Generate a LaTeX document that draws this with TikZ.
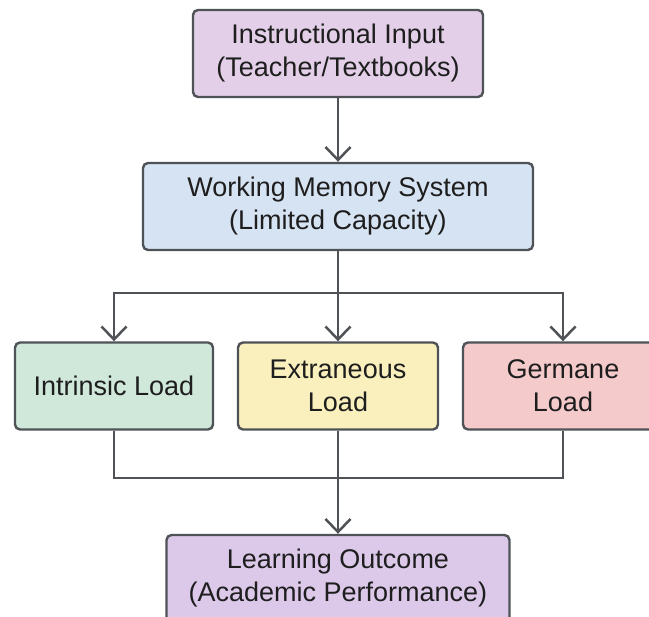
\documentclass[tikz,border=0pt]{standalone}
\usepackage{fontspec}
\setmainfont{Liberation Sans}
\usepackage{xcolor}
\usepackage{tikz}
\usetikzlibrary{arrows.meta,positioning}

\definecolor{inpcol}{HTML}{E3D0E8}
\definecolor{wmcol}{HTML}{D6E3F2}
\definecolor{intcol}{HTML}{CFE8DA}
\definecolor{extcol}{HTML}{FAF0BE}
\definecolor{gercol}{HTML}{F5CACB}
\definecolor{outcol}{HTML}{DCC9EA}
\definecolor{linegray}{HTML}{4F5357}
\definecolor{textgray}{HTML}{1E1E1E}

\begin{document}
\begin{tikzpicture}[x=1pt,y=-1pt,
	box/.style={draw=linegray,line width=2.4pt,rounded corners=5pt,align=center,minimum height=87pt,inner sep=0pt,text=textgray,font=\fontsize{27}{33}\selectfont},
	wire/.style={draw=linegray,line width=2.5pt},
	conn/.style={wire,-{Straight Barb[length=13pt,width=25pt]}}]
	\useasboundingbox (0,0) rectangle (649,617);
	\fill[white] (0,0) rectangle (649,617);
	\clip (0,0) rectangle (649,617);
	% boxes
	\node[box,fill=inpcol,minimum width=290pt] (inp) at (338,53.5) {Instructional Input\\(Teacher/Textbooks)};
	\node[box,fill=wmcol,minimum width=390pt] (wms) at (338,206.5) {Working Memory System\\(Limited Capacity)};
	\node[box,fill=intcol,minimum width=198pt] (int) at (114,386) {Intrinsic Load};
	\node[box,fill=extcol,minimum width=200pt] (ext) at (338,386) {Extraneous\\Load};
	\node[box,fill=gercol,minimum width=200pt] (ger) at (563,386) {Germane\\Load};
	\node[box,fill=outcol,minimum width=343pt] (out) at (338,578.5) {Learning Outcome\\(Academic Performance)};
	\coordinate (split) at (338,293);
	\coordinate (join) at (338,478);
	% connectors
	\draw[conn] (inp) -- (wms);
	\draw[conn] (wms) -- (ext);
	\draw[conn] (split) -| (int.north);
	\draw[conn] (split) -| (ger.north);
	\draw[wire] (int.south) |- (join);
	\draw[wire] (ger.south) |- (join);
	\draw[conn] (ext) -- (out);
\end{tikzpicture}
\end{document}
